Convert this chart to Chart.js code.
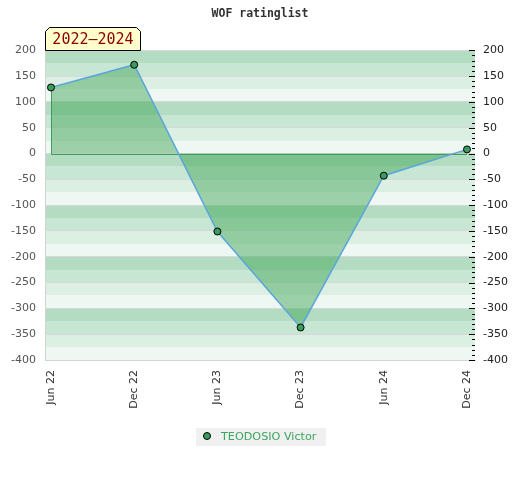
<!DOCTYPE html>
<html>
<head>
<meta charset="utf-8">
<title>WOF ratinglist</title>
<script src="https://cdn.jsdelivr.net/npm/chart.js@4.4.1/dist/chart.umd.min.js"></script>
<style>
  html, body { margin: 0; padding: 0; background: #fff; }
  #wrap { width: 520px; height: 480px; }
</style>
</head>
<body>
<div id="wrap"><canvas id="chart" width="520" height="480"></canvas></div>
<script>
// Chart data
const periods = ["Jun 22", "Dec 22", "Jun 23", "Dec 23", "Jun 24", "Dec 24"];
const ratingChange = [128, 172, -151, -337, -43, 8];
const playerName = "TEODOSIO Victor";
const periodLabel = "2022–2024";
const yTicks = [200, 150, 100, 50, 0, -50, -100, -150, -200, -250, -300, -350, -400];

const yMin = yTicks[yTicks.length - 1];
const yMax = yTicks[0];
const stripeColors = ["#b3dcc2", "#c8e6d4", "#dcefe3", "#eff7f2"];
const pointFill = "#3a9d5d";

// Banded background behind the plot
const stripes = {
  id: "stripes",
  beforeDraw(chart) {
    const { ctx, chartArea: a, scales } = chart;
    const y = scales.y;
    ctx.save();
    let i = 0;
    for (let v = yMax; v > yMin; v -= 25, i++) {
      const top = Math.round(y.getPixelForValue(v));
      const bot = Math.round(y.getPixelForValue(v - 25));
      ctx.fillStyle = stripeColors[i % 4];
      ctx.fillRect(a.left, top, a.right - a.left, bot - top);
    }
    ctx.restore();
  },
};

// Dark green edge of the filled area (baseline + first vertical)
const fillEdge = {
  id: "fillEdge",
  beforeDatasetDraw(chart, args) {
    const pts = chart.getDatasetMeta(args.index).data;
    if (!pts.length) return;
    const { ctx, scales } = chart;
    const y0 = Math.round(scales.y.getPixelForValue(0)) + 0.5;
    const first = pts[0], last = pts[pts.length - 1];
    const fx = Math.round(first.x) + 0.5;
    ctx.save();
    ctx.strokeStyle = "#3f9a60";
    ctx.lineWidth = 1;
    ctx.beginPath();
    ctx.moveTo(fx, first.y);
    ctx.lineTo(fx, y0);
    ctx.lineTo(last.x, y0);
    ctx.stroke();
    ctx.restore();
  },
};

// Small tick marks along the inside of the right edge
const rightTicks = {
  id: "rightTicks",
  afterDraw(chart) {
    const { ctx, chartArea: a, scales } = chart;
    const s = scales.y1;
    ctx.save();
    ctx.strokeStyle = "#000";
    ctx.lineWidth = 1;
    ctx.beginPath();
    s.ticks.forEach((t) => {
      const py = Math.round(s.getPixelForValue(t.value)) + 0.5;
      const len = t.value % 50 === 0 ? 6 : 3;
      ctx.moveTo(a.right - len, py);
      ctx.lineTo(a.right, py);
    });
    ctx.stroke();
    ctx.restore();
  },
};

// Period tag above the top-left corner and the legend box
const decorations = {
  id: "decorations",
  afterDraw(chart) {
    const { ctx, chartArea: a } = chart;
    ctx.save();

    // period tag
    const bx = a.left + 0.5, by = 27.5, bw = 95, bh = Math.round(a.top) - 27;
    ctx.beginPath();
    ctx.moveTo(bx, by + bh);
    ctx.lineTo(bx, by + 4);
    ctx.lineTo(bx + 4, by);
    ctx.lineTo(bx + bw - 4, by);
    ctx.lineTo(bx + bw, by + 4);
    ctx.lineTo(bx + bw, by + bh);
    ctx.closePath();
    ctx.fillStyle = "#ffffcc";
    ctx.fill();
    ctx.strokeStyle = "#000";
    ctx.lineWidth = 1;
    ctx.stroke();
    ctx.font = "15px 'DejaVu Sans Mono'";
    ctx.fillStyle = "#8b0000";
    ctx.textAlign = "center";
    ctx.textBaseline = "middle";
    ctx.fillText(periodLabel, bx + bw / 2, by + bh / 2 + 1);

    // legend
    const ds = chart.data.datasets[0];
    ctx.font = "11.2px 'DejaVu Sans'";
    const tw = ctx.measureText(ds.label).width;
    const lw = Math.round(25 + tw + 10);
    const lx = Math.round((chart.width - lw) / 2) + 1;
    const ly = Math.round(a.bottom) + 68;
    ctx.fillStyle = "#f0f0f0";
    ctx.fillRect(lx, ly, lw, 18);
    ctx.beginPath();
    ctx.arc(lx + 11, ly + 8, 3.5, 0, Math.PI * 2);
    ctx.fillStyle = ds.pointBackgroundColor;
    ctx.fill();
    ctx.strokeStyle = ds.pointBorderColor;
    ctx.stroke();
    ctx.fillStyle = "#3aa55f";
    ctx.textAlign = "left";
    ctx.fillText(ds.label, lx + 25, ly + 9);

    ctx.restore();
  },
};

const ctx = document.getElementById("chart").getContext("2d");

new Chart(ctx, {
  type: "line",
  data: {
    datasets: [
      {
        label: playerName,
        data: ratingChange.map((v, i) => ({ x: i, y: v })),
        borderColor: "#5aa6db",
        borderWidth: 1.5,
        backgroundColor: "rgba(64, 166, 88, 0.48)",
        fill: "origin",
        tension: 0,
        pointRadius: 3.5,
        pointHoverRadius: 3.5,
        pointBackgroundColor: pointFill,
        pointBorderColor: "#000",
        pointBorderWidth: 1,
      },
    ],
  },
  options: {
    responsive: false,
    animation: false,
    events: [],
    layout: { padding: { left: 0, right: 0, top: 0, bottom: 60 } },
    plugins: {
      legend: { display: false },
      tooltip: { enabled: false },
      title: {
        display: true,
        text: "WOF ratinglist",
        color: "#333",
        font: { family: "DejaVu Sans Mono", size: 11.5, weight: "bold" },
        padding: { top: 7, bottom: 29.5 },
      },
    },
    scales: {
      x: {
        type: "linear",
        min: -0.072,
        max: periods.length - 1 + 0.096,
        afterBuildTicks: (axis) => {
          axis.ticks = periods.map((_, i) => ({ value: i }));
        },
        afterFit: (axis) => {
          axis.height = 60;
        },
        grid: { display: false, drawTicks: false },
        border: { display: true, color: "#d4d4d4" },
        ticks: {
          autoSkip: false,
          minRotation: 90,
          maxRotation: 90,
          padding: 10,
          color: "#333",
          font: { family: "DejaVu Sans", size: 11 },
          callback: (v) => periods[v] ?? "",
        },
      },
      y: {
        position: "left",
        min: yMin,
        max: yMax,
        afterBuildTicks: (axis) => {
          axis.ticks = yTicks.map((v) => ({ value: v }));
        },
        afterFit: (axis) => {
          axis.width = 45;
        },
        grid: { color: "#d8d8d8", drawTicks: false },
        border: { display: true, color: "#d4d4d4" },
        ticks: {
          padding: 9,
          color: "#555",
          font: { family: "DejaVu Sans", size: 11 },
        },
      },
      y1: {
        position: "right",
        min: yMin,
        max: yMax,
        afterFit: (axis) => {
          axis.width = 45;
        },
        grid: { display: false, drawTicks: false },
        border: { display: false },
        ticks: {
          stepSize: 10,
          autoSkip: false,
          maxTicksLimit: 100,
          padding: 8,
          color: "#222",
          font: { family: "DejaVu Sans", size: 11 },
          callback: (v) => (v % 50 === 0 ? String(v) : ""),
        },
      },
    },
  },
  plugins: [stripes, fillEdge, rightTicks, decorations],
});
</script>
</body>
</html>
